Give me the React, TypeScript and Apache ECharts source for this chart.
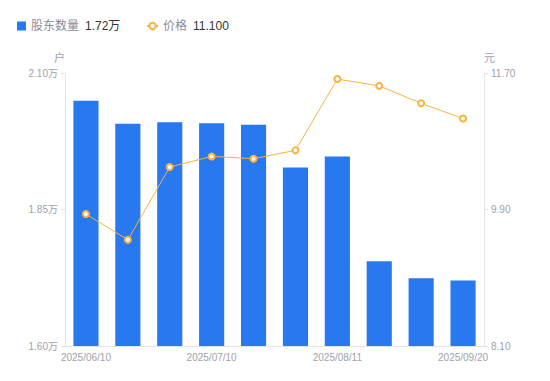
import React, { useEffect, useRef } from "react";
import * as echarts from "echarts";

const categories = [
  "2025/06/10", "2025/06/20", "2025/06/30", "2025/07/10", "2025/07/20",
  "2025/07/31", "2025/08/11", "2025/08/20", "2025/08/31", "2025/09/20",
];
const holders = [2.049, 2.007, 2.010, 2.008, 2.005, 1.927, 1.947, 1.755, 1.724, 1.72];
const prices = [9.84, 9.5, 10.46, 10.6, 10.57, 10.68, 11.62, 11.53, 11.3, 11.1];
const holderTicks = { min: 1.6, max: 2.1, interval: 0.25 };
const priceTicks = { min: 8.1, max: 11.7, interval: 1.8 };

const FONT = "'Liberation Sans', Arial, 'Noto Sans CJK SC', sans-serif";
const AXIS_TEXT = "#9ea1ae";
const BLUE = "#2878f0";
const ORANGE = "#f9b340";

export default function App() {
  const ref = useRef<HTMLDivElement>(null);
  useEffect(() => {
    document.body.style.margin = "0";
    if (!ref.current) return;
    const chart = echarts.init(ref.current, undefined, { renderer: "svg" });
    const lastH = holders[holders.length - 1].toFixed(2) + "万";
    const lastP = prices[prices.length - 1].toFixed(3);
    const rich = {
      n: { color: "#8a8d99", fontSize: 12, fontFamily: FONT },
      v: { color: "#333", fontSize: 12, fontFamily: FONT, padding: [0, 0, 0, 6] },
    };
    chart.setOption({
      animation: false,
      textStyle: { fontFamily: FONT },
      legend: [
        {
          left: 12, top: 15, itemWidth: 9, itemHeight: 9, itemGap: 20,
          data: [{ name: "股东数量", icon: "rect" }],
          formatter: (n: string) => `{n|${n}}{v|${lastH}}`,
          textStyle: { rich },
        },
        {
          left: 141, top: 15, itemWidth: 11, itemHeight: 8,
          data: ["价格"],
          formatter: (n: string) => `{n|${n}}{v|${lastP}}`,
          textStyle: { rich },
        },
      ],
      grid: { left: 65, right: 66, top: 73, bottom: 35 },
      xAxis: {
        type: "category",
        data: categories,
        axisLine: { lineStyle: { color: "#e3e3e3" } },
        axisTick: { show: false },
        axisLabel: { color: AXIS_TEXT, fontSize: 10, interval: 2, margin: 6, fontFamily: FONT },
      },
      yAxis: [
        {
          type: "value",
          name: "户",
          nameGap: 10,
          nameTextStyle: { color: AXIS_TEXT, fontSize: 11, align: "right", fontFamily: FONT },
          ...holderTicks,
          axisLine: { show: true, lineStyle: { color: "#e3e3e3" } },
          axisTick: { show: true, length: 4, lineStyle: { color: "#e3e3e3" } },
          splitLine: { show: false },
          axisLabel: {
            color: AXIS_TEXT, fontSize: 10, margin: 7, fontFamily: FONT,
            formatter: (v: number) => v.toFixed(2) + "万",
          },
        },
        {
          type: "value",
          name: "元",
          nameGap: 10,
          nameTextStyle: { color: AXIS_TEXT, fontSize: 11, align: "left", fontFamily: FONT },
          ...priceTicks,
          axisLine: { show: true, lineStyle: { color: "#e3e3e3" } },
          axisTick: { show: true, length: 4, lineStyle: { color: "#e3e3e3" } },
          splitLine: { show: false },
          axisLabel: {
            color: AXIS_TEXT, fontSize: 10, margin: 7, fontFamily: FONT,
            formatter: (v: number) => v.toFixed(2),
          },
        },
      ],
      series: [
        {
          name: "股东数量",
          type: "bar",
          data: holders,
          barWidth: "60%",
          itemStyle: { color: BLUE },
        },
        {
          name: "价格",
          type: "line",
          yAxisIndex: 1,
          data: prices,
          symbol: "emptyCircle",
          symbolSize: 6,
          lineStyle: { color: ORANGE, width: 1 },
          itemStyle: { color: ORANGE, borderWidth: 2 },
        },
      ],
    });
    return () => chart.dispose();
  }, []);
  return <div ref={ref} style={{ width: 550, height: 381 }} />;
}
